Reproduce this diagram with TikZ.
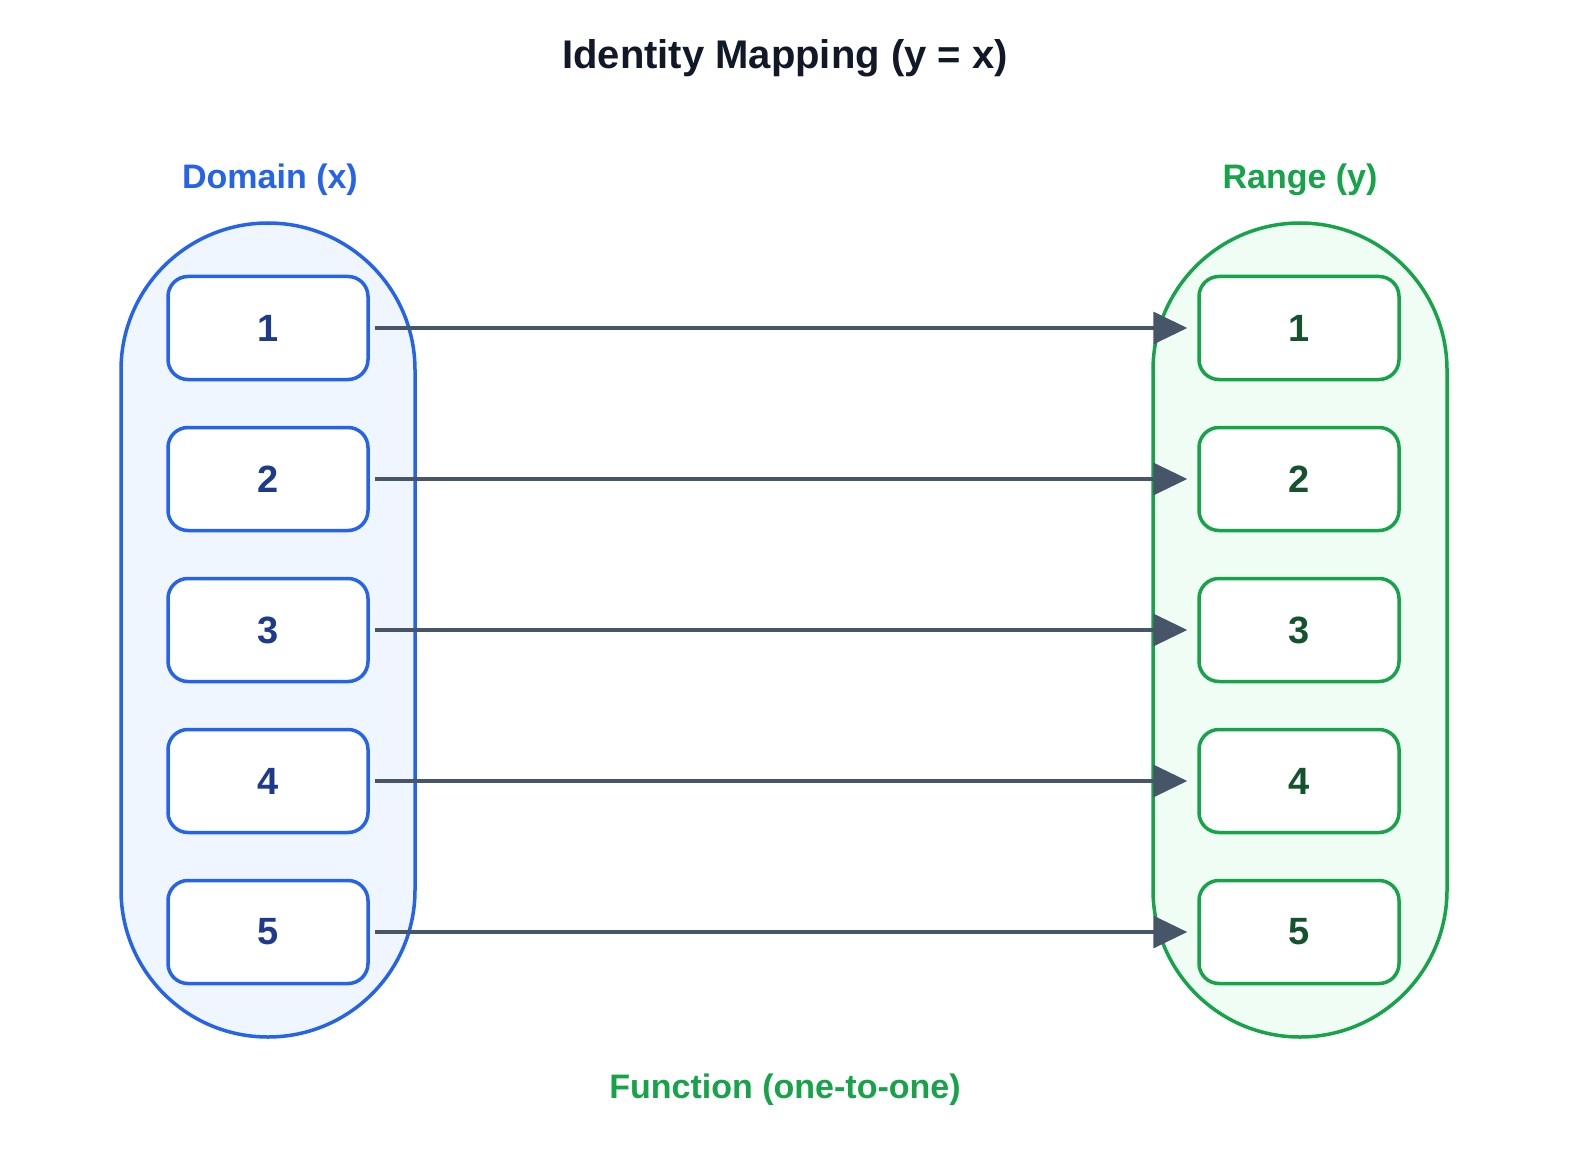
\documentclass[tikz,border=0pt]{standalone}
\usepackage{fontspec}
\setmainfont{Liberation Sans}
\usetikzlibrary{arrows.meta}
\definecolor{cblue}{HTML}{2563EB}
\definecolor{cgreen}{HTML}{16A34A}
\definecolor{cbluefill}{HTML}{EFF6FF}
\definecolor{cgreenfill}{HTML}{F0FDF4}
\definecolor{cbluetext}{HTML}{1E3A8A}
\definecolor{cgreentext}{HTML}{14532D}
\definecolor{carrow}{HTML}{475569}
\definecolor{ctitle}{HTML}{111827}
\tikzset{
  elem/.style={draw, line width=3.5pt, fill=white, rounded corners=20pt, minimum width=200pt, minimum height=103pt, inner sep=0pt, font=\fontsize{38}{44}\selectfont\bfseries},
  lelem/.style={elem, draw=cblue, text=cbluetext},
  relem/.style={elem, draw=cgreen, text=cgreentext},
  setbox/.style={line width=3.5pt, rounded corners=147pt},
  maparrow/.style={draw=carrow, line width=3.5pt, -{Triangle[length=34pt,width=32pt]}, shorten <=5pt, shorten >=10pt},
  lbl/.style={font=\fontsize{34}{40}\selectfont\bfseries}
}
\begin{document}
\begin{tikzpicture}[x=1pt,y=-1pt]
\useasboundingbox (0,0) rectangle (1589,1155);
\draw[setbox, draw=cblue, fill=cbluefill] (121,223) rectangle (415,1037);
\draw[setbox, draw=cgreen, fill=cgreenfill] (1153,223) rectangle (1447,1037);
\node[font=\fontsize{40}{46}\selectfont\bfseries, text=ctitle] (title) at (785,58) {Identity Mapping (y = x)};
\node[lbl, text=cblue] (dom) at (270,180) {Domain (x)};
\node[lbl, text=cgreen] (ran) at (1300,180) {Range (y)};
\node[lbl, text=cgreen] (fn) at (785,1090) {Function (one-to-one)};
\foreach \i/\y in {1/328,2/479,3/630,4/781,5/932}{
  \node[lelem] (l\i) at (268,\y) {\i};
  \node[relem] (r\i) at (1299,\y) {\i};
  \draw[maparrow] (l\i.east) -- (r\i.west);
}
\end{tikzpicture}
\end{document}
